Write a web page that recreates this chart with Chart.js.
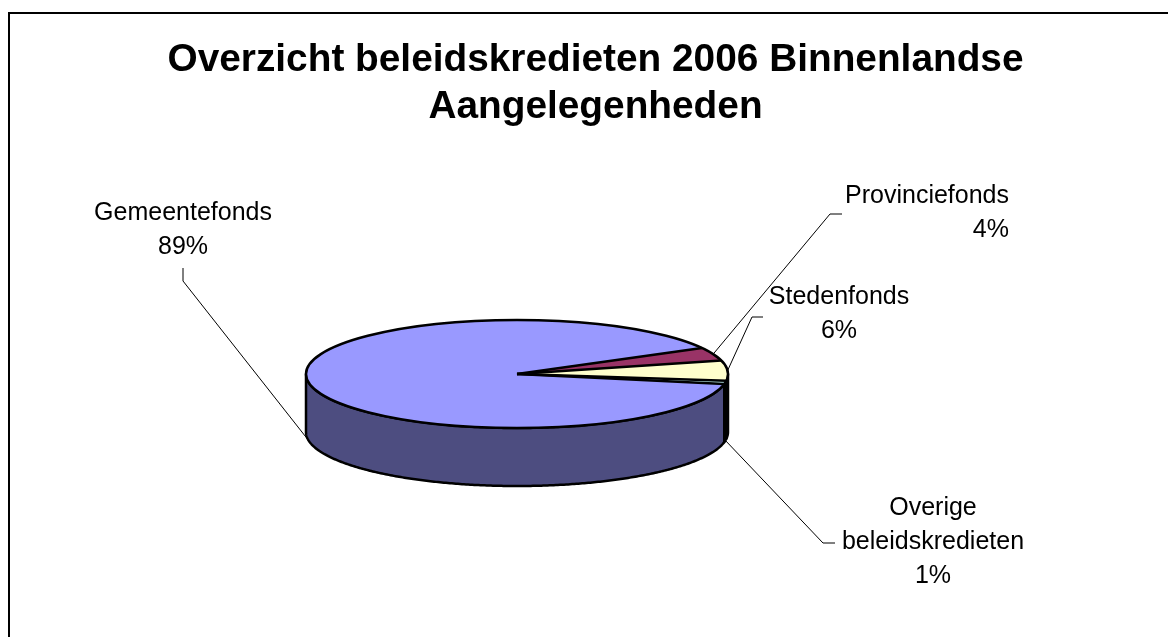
<!DOCTYPE html>
<html><head><meta charset="utf-8">
<script src="https://cdn.jsdelivr.net/npm/chart.js@4.4.1/dist/chart.umd.min.js"></script>
<style>html,body{margin:0;padding:0;background:#fff;overflow:hidden}#wrap{width:1168px;height:637px;position:relative}</style>
</head><body><div id="wrap"><canvas id="c"></canvas></div>
<script>
const categories = ['Gemeentefonds', 'Provinciefonds', 'Stedenfonds', 'Overige beleidskredieten'];
const shares = [89, 4, 6, 1];
const titleLines = ['Overzicht beleidskredieten 2006 Binnenlandse', 'Aangelegenheden'];
const labelLines = [['Gemeentefonds'], ['Provinciefonds'], ['Stedenfonds'], ['Overige', 'beleidskredieten']];
const topColors = ['#9999FF', '#993366', '#FFFFCC', '#CCFFFF'];
const sideColors = ['#4D4D80', '#4D1A33', '#808066', '#668080'];

// label text boxes and leader-line elbows (label placement, not data)
const labelLayout = [
  {x: 183, y: 213, align: 'center', path: [[183, 281], [183, 268]]},
  {x: 1009, y: 196, align: 'right', path: [[830, 214], [842, 214]]},
  {x: 839, y: 297, align: 'center', path: [[752, 317], [763, 317]]},
  {x: 933, y: 508, align: 'center', path: [[823, 543], [835, 543]]}
];

const FONT = '"Liberation Sans", Arial, sans-serif';

function ellPt(o, t, dz) {
  return [o.cx + o.rx * Math.cos(t), o.cy + o.ry * Math.sin(t) + (dz || 0)];
}
function sidePath(ctx, o, a, b) {
  const n = Math.max(2, Math.ceil((b - a) / 0.01));
  ctx.beginPath();
  for (let j = 0; j <= n; j++) {
    const p = ellPt(o, a + (b - a) * j / n, 0);
    j ? ctx.lineTo(p[0], p[1]) : ctx.moveTo(p[0], p[1]);
  }
  for (let j = n; j >= 0; j--) {
    const p = ellPt(o, a + (b - a) * j / n, o.depth);
    ctx.lineTo(p[0], p[1]);
  }
  ctx.closePath();
}

const pie3d = {
  id: 'pie3d',
  beforeDraw(chart) {
    const ctx = chart.ctx;
    ctx.save();
    ctx.fillStyle = '#fff';
    ctx.fillRect(0, 0, chart.width, chart.height);
    ctx.strokeStyle = '#000';
    ctx.lineWidth = 2;
    ctx.beginPath();
    ctx.moveTo(9, chart.height + 5);
    ctx.lineTo(9, 13);
    ctx.lineTo(chart.width + 5, 13);
    ctx.stroke();
    ctx.restore();
  },
  beforeDatasetsDraw(chart, args, o) {
    const ctx = chart.ctx;
    const arcs = chart.getDatasetMeta(0).data;
    const TAU = Math.PI * 2;
    ctx.save();
    ctx.lineWidth = o.edge;
    ctx.lineJoin = 'round';
    ctx.strokeStyle = '#000';
    arcs.forEach((arc, i) => {
      for (const k of [-1, 0, 1]) {
        const s = Math.max(arc.startAngle + k * TAU, 0);
        const e = Math.min(arc.endAngle + k * TAU, Math.PI);
        if (e > s) {
          sidePath(ctx, o, s, e);
          ctx.fillStyle = sideColors[i];
          ctx.fill();
          ctx.stroke();
        }
      }
    });
    ctx.restore();
    const a0 = arcs[0];
    const R = a0.outerRadius;
    ctx.save();
    ctx.translate(o.cx, o.cy);
    ctx.scale(o.rx / R, o.ry / R);
    ctx.translate(-a0.x, -a0.y);
  },
  afterDatasetsDraw(chart, args, o) {
    const ctx = chart.ctx;
    ctx.restore();
    const arcs = chart.getDatasetMeta(0).data;
    // top outline
    ctx.save();
    ctx.strokeStyle = '#000';
    ctx.lineWidth = o.edge;
    ctx.lineJoin = 'round';
    ctx.beginPath();
    ctx.ellipse(o.cx, o.cy, o.rx, o.ry, 0, 0, Math.PI * 2);
    ctx.stroke();
    arcs.forEach(arc => {
      const p = ellPt(o, arc.startAngle, 0);
      ctx.beginPath();
      ctx.moveTo(o.cx, o.cy);
      ctx.lineTo(p[0], p[1]);
      ctx.stroke();
    });
    ctx.restore();
    // labels
    const total = shares.reduce((a, b) => a + b, 0);
    ctx.save();
    arcs.forEach((arc, i) => {
      const mid = (arc.startAngle + arc.endAngle) / 2;
      const front = Math.sin(mid) > 0;
      const anchor = ellPt(o, mid, front ? o.depth : 0);
      const L = labelLayout[i];
      ctx.strokeStyle = '#000';
      ctx.lineWidth = 1;
      ctx.beginPath();
      ctx.moveTo(anchor[0], anchor[1]);
      L.path.forEach(p => ctx.lineTo(p[0], p[1]));
      ctx.stroke();
      const lines = labelLines[i].concat([Math.round(shares[i] / total * 100) + '%']);
      ctx.fillStyle = '#000';
      ctx.font = '25px ' + FONT;
      ctx.textAlign = L.align;
      ctx.textBaseline = 'middle';
      lines.forEach((t, j) => ctx.fillText(t, L.x, L.y + j * 34));
    });
    ctx.restore();
  }
};

new Chart(document.getElementById('c'), {
  type: 'pie',
  data: {
    labels: categories,
    datasets: [{data: shares, backgroundColor: topColors, borderWidth: 0}]
  },
  options: {
    responsive: true,
    maintainAspectRatio: false,
    animation: false,
    events: [],
    rotation: 100.8,
    layout: {padding: {left: 23, right: 0, top: 0, bottom: 10}},
    plugins: {
      legend: {display: false},
      tooltip: {enabled: false},
      title: {
        display: true,
        text: titleLines,
        color: '#000',
        font: {family: FONT, size: 38.8, weight: 'bold', lineHeight: 1.2},
        padding: {top: 37, bottom: 10}
      },
      pie3d: {cx: 517, cy: 374, rx: 211, ry: 54, depth: 58, edge: 2.5}
    }
  },
  plugins: [pie3d]
});
</script>
</body></html>
